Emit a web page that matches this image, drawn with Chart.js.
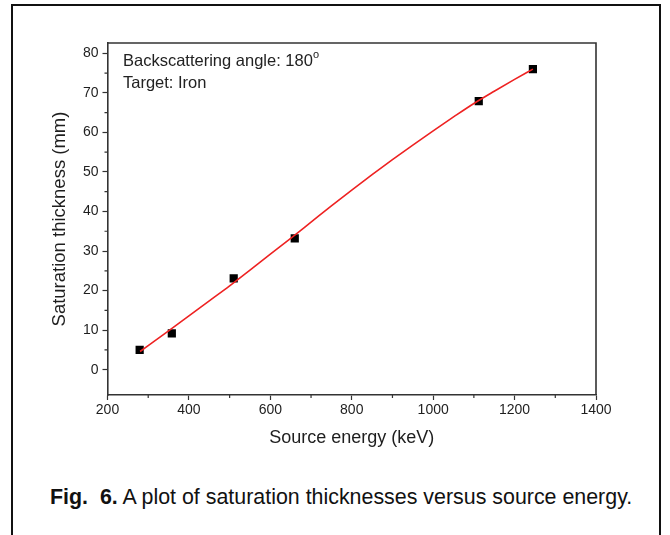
<!DOCTYPE html>
<html>
<head>
<meta charset="utf-8">
<script src="https://cdn.jsdelivr.net/npm/chart.js@4.4.1/dist/chart.umd.min.js"></script>
<style>
  html, body { margin: 0; padding: 0; background: #fff; }
  body { width: 670px; height: 535px; position: relative; overflow: hidden; font-family: "Liberation Sans", Arial, sans-serif; }
  #frame { position: absolute; left: 11px; top: 4px; width: 650px; height: 600px; border: 2px solid #111; box-sizing: border-box; }
  #c { position: absolute; left: 0; top: 0; }
  .note { position: absolute; left: 123px; font-size: 16.5px; color: #222; white-space: nowrap; }
  .note sup { font-size: 11px; position: relative; top: -1px; }
  #caption { position: absolute; left: 50px; top: 485px; font-size: 21.4px; color: #111; white-space: nowrap; }
</style>
</head>
<body>
<div id="frame"></div>
<canvas id="c" width="670" height="460"></canvas>
<div class="note" style="top:49px">Backscattering angle: 180<sup>o</sup></div>
<div class="note" style="top:73px">Target: Iron</div>
<div id="caption"><b>Fig.&nbsp; 6.</b> A plot of saturation thicknesses versus source energy.</div>
<script>
// Measured data (source energy in keV, saturation thickness in mm)
const energies = [279, 358, 510, 660, 1112, 1245];
const thickness = [5, 9.2, 23.1, 33.2, 67.9, 76.0];

// Fitted curve
const fitEnergy = [280, 350, 400, 450, 500, 550, 600, 650, 700, 750, 800, 850, 900, 950, 1000, 1050, 1100, 1150, 1200, 1245];
const fitThickness = [4.6, 9.8, 13.6, 17.4, 21.2, 25.2, 29.2, 33.2, 37.3, 41.4, 45.4, 49.3, 53.1, 56.8, 60.4, 63.9, 67.3, 70.4, 73.4, 76.0];

// Tick values
const xTicks = [200, 400, 600, 800, 1000, 1200, 1400];
const xMinorTicks = [300, 500, 700, 900, 1100, 1300];
const yTicks = [0, 10, 20, 30, 40, 50, 60, 70, 80];
const yMinorTicks = [5, 15, 25, 35, 45, 55, 65, 75];

const axisColor = '#333';
const textColor = '#1e1e1e';

const framePlugin = {
  id: 'framePlugin',
  afterDraw(chart) {
    const { ctx, chartArea: a, scales } = chart;
    ctx.save();
    ctx.strokeStyle = axisColor;
    ctx.lineWidth = 1.6;
    ctx.beginPath();
    ctx.moveTo(a.left, a.top);
    ctx.lineTo(a.right, a.top);
    ctx.lineTo(a.right, a.bottom);
    ctx.stroke();
    // minor ticks
    ctx.lineWidth = 1.2;
    ctx.beginPath();
    xMinorTicks.forEach(v => {
      const x = scales.x.getPixelForValue(v);
      ctx.moveTo(x, a.bottom);
      ctx.lineTo(x, a.bottom + 3);
    });
    yMinorTicks.forEach(v => {
      const y = scales.y.getPixelForValue(v);
      ctx.moveTo(a.left, y);
      ctx.lineTo(a.left - 3, y);
    });
    ctx.stroke();
    ctx.restore();
  }
};

new Chart(document.getElementById('c'), {
  type: 'scatter',
  data: {
    datasets: [
      {
        type: 'line',
        label: 'fit',
        data: fitEnergy.map((x, i) => ({ x, y: fitThickness[i] })),
        borderColor: '#ee2222',
        borderWidth: 1.6,
        pointRadius: 0,
        cubicInterpolationMode: 'monotone',
        fill: false,
        order: 0
      },
      {
        label: 'data',
        data: energies.map((x, i) => ({ x, y: thickness[i] })),
        pointStyle: 'rect',
        pointRadius: 5.8,
        backgroundColor: '#000',
        borderColor: '#000',
        borderWidth: 0,
        order: 1
      }
    ]
  },
  options: {
    responsive: false,
    devicePixelRatio: 1,
    animation: false,
    layout: { padding: { left: 49, right: 74, top: 43, bottom: 0 } },
    plugins: { legend: { display: false }, tooltip: { enabled: false } },
    scales: {
      x: {
        type: 'linear',
        min: 200,
        max: 1400,
        afterBuildTicks: s => { s.ticks = xTicks.map(v => ({ value: v })); },
        afterFit: s => { s.height = 65; },
        grid: { drawOnChartArea: false, drawTicks: true, tickLength: 5, tickColor: axisColor, tickWidth: 1.2 },
        border: { display: true, color: axisColor, width: 1.6 },
        ticks: { color: textColor, font: { family: 'Liberation Sans', size: 14 }, padding: 2, maxRotation: 0, callback: v => String(v) },
        title: { display: true, text: 'Source energy (keV)', color: textColor, font: { family: 'Liberation Sans', size: 18 }, padding: { top: 0, bottom: 11 } }
      },
      y: {
        type: 'linear',
        min: -6.4,
        max: 82.6,
        afterBuildTicks: s => { s.ticks = yTicks.map(v => ({ value: v })); },
        afterFit: s => { s.width = 58.5; },
        grid: { drawOnChartArea: false, drawTicks: true, tickLength: 5, tickColor: axisColor, tickWidth: 1.2 },
        border: { display: true, color: axisColor, width: 1.6 },
        ticks: { color: textColor, font: { family: 'Liberation Sans', size: 14 }, padding: 4, callback: v => String(v) },
        title: { display: true, text: 'Saturation thickness (mm)', color: textColor, font: { family: 'Liberation Sans', size: 18.5 }, padding: { top: 0, bottom: 0 } }
      }
    }
  },
  plugins: [framePlugin]
});
</script>
</body>
</html>
